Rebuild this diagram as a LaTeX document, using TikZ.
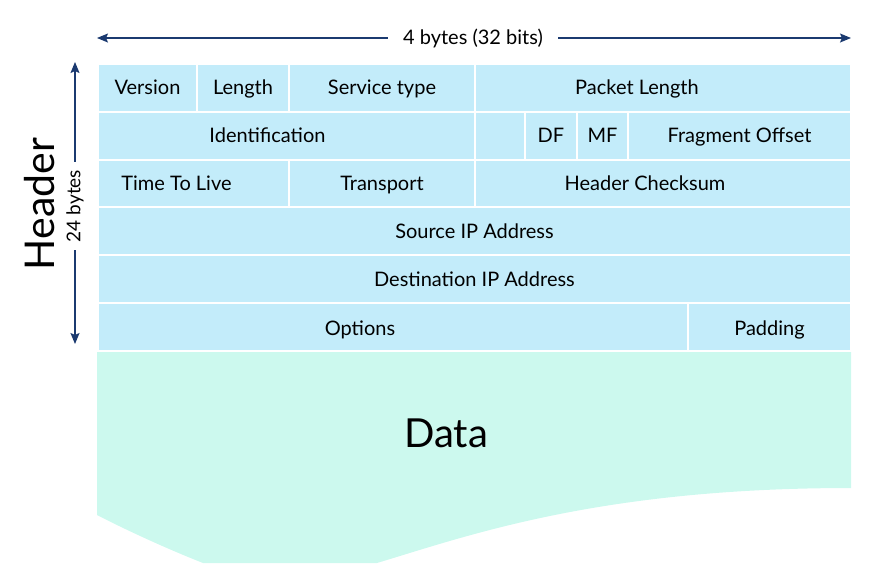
\documentclass[tikz,border=0pt]{standalone}
\usepackage{fontspec}
\setmainfont{Lato}
\usetikzlibrary{arrows.meta}
\definecolor{hdrblue}{HTML}{C3ECFA}
\definecolor{datamint}{HTML}{CCF9EE}
\definecolor{dimnavy}{HTML}{1B3A70}

\begin{document}
\begin{tikzpicture}[x=1pt, y=-1pt, font=\fontsize{20}{24}\selectfont]

  % Define custom styles
  \tikzset{
    cell/.style={rectangle, fill=hdrblue, draw=white, line width=2pt, anchor=north west,
      minimum height=47.8pt, inner sep=0pt, text height=14.5pt, text depth=0.5pt},
    every label/.style={text height=14.5pt, text depth=0.5pt, inner sep=0pt},
    dimline/.style={dimnavy, line width=1.3pt,
      {Stealth[length=11pt, width=9pt, inset=2pt]}-{Stealth[length=11pt, width=9pt, inset=2pt]}},
    dimtext/.style={fill=white, inner sep=0pt}
  }

  \useasboundingbox (0,0) rectangle (880,582);

  % Data area with wavy bottom
  \fill[datamint] (97,349.8) -- (851,349.8) -- (851,488)
    .. controls (600,488) and (470,535) .. (377,563) -- (203,563)
    .. controls (170,550) and (130,532) .. (97,515) -- cycle;
  \node[font=\fontsize{40}{44}\selectfont] (data) at (446,433) {Data};

  % Row 1
  \node[cell, minimum width=99pt] (version) at (97,63) {Version};
  \node[cell, minimum width=92pt] (length) at (196,63) {Length};
  \node[cell, minimum width=186pt] (service) at (288,63) {Service type};
  \node[cell, minimum width=376pt, label={[xshift=-26pt]center:Packet Length}] (pktlen) at (474,63) {};

  % Row 2
  \node[cell, minimum width=377pt, label={[xshift=-19pt]center:Identification}] (ident) at (97,110.8) {};
  \node[cell, minimum width=50pt] (flag0) at (474,110.8) {};
  \node[cell, minimum width=52pt] (df) at (524,110.8) {DF};
  \node[cell, minimum width=51pt] (mf) at (576,110.8) {MF};
  \node[cell, minimum width=223pt] (fragoff) at (627,110.8) {Fragment Offset};

  % Row 3
  \node[cell, minimum width=191pt, label={[xshift=-17pt]center:Time To Live}] (ttl) at (97,158.6) {};
  \node[cell, minimum width=186pt] (transport) at (288,158.6) {Transport};
  \node[cell, minimum width=376pt, label={[xshift=-18pt]center:Header Checksum}] (checksum) at (474,158.6) {};

  % Rows 4 and 5
  \node[cell, minimum width=753pt] (srcip) at (97,206.4) {Source IP Address};
  \node[cell, minimum width=753pt] (dstip) at (97,254.2) {Destination IP Address};

  % Row 6
  \node[cell, minimum width=590pt, label={[xshift=-33pt, yshift=-2pt]center:Options}] (options) at (97,302) {};
  \node[cell, minimum width=163pt, text height=18.5pt, text depth=0.5pt] (padding) at (687,302) {Padding};

  % Width dimension
  \coordinate (wleft) at (97,38);
  \coordinate (wright) at (851,38);
  \draw[dimline] (wleft) -- (wright);
  \node[dimtext, inner xsep=15pt] (wtext) at (473,38) {4 bytes (32 bits)};

  % Height dimension
  \coordinate (htop) at (75,62);
  \coordinate (hbot) at (75,344);
  \draw[dimline] (htop) -- (hbot);
  \node[dimtext, rotate=90, inner xsep=8pt, font=\fontsize{19}{22}\selectfont] (htext) at (75,206) {24 bytes};
  \node[rotate=90, font=\fontsize{41}{46}\selectfont] (header) at (40,204) {Header};

\end{tikzpicture}
\end{document}
